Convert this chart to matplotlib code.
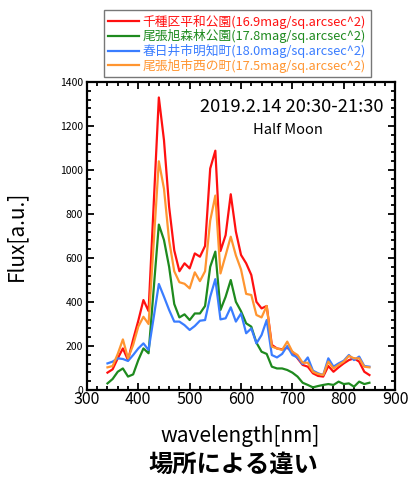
import numpy as np
import matplotlib
matplotlib.use('Agg')
import matplotlib.pyplot as plt
from matplotlib.ticker import MultipleLocator

plt.rcParams['font.family'] = ['Noto Sans CJK JP', 'DejaVu Sans']

# スペクトルデータ (10nm刻み)
wl = np.arange(340, 851, 10)

chikusa = [79, 94, 144, 189, 136, 230, 315, 409, 359, 845,
           1330, 1136, 833, 635, 540, 576, 553, 621, 606, 655,
           1007, 1088, 632, 704, 890, 720, 614, 576, 523, 401,
           371, 382, 205, 189, 185, 192, 174, 144, 114, 106,
           76, 64, 61, 109, 83, 103, 121, 136, 144, 129,
           83, 68]
owariasahi_forest = [30, 50, 83, 98, 61, 71, 136, 189, 167, 460,
                     752, 682, 560, 391, 330, 344, 318, 348, 348, 382,
                     560, 629, 364, 424, 500, 401, 358, 303, 288, 215,
                     174, 164, 106, 98, 98, 91, 79, 61, 33, 23,
                     12, 18, 23, 27, 23, 38, 27, 30, 15, 38,
                     27, 33]
kasugai = [121, 129, 144, 141, 132, 159, 189, 212, 182, 330,
           482, 424, 364, 311, 311, 295, 273, 291, 315, 318,
           424, 504, 321, 326, 376, 311, 348, 258, 280, 212,
           250, 318, 159, 148, 164, 200, 159, 148, 118, 148,
           88, 76, 68, 144, 106, 121, 133, 159, 136, 152,
           109, 106]
owariasahi_nishi = [103, 109, 164, 230, 144, 205, 288, 333, 300, 670,
                    1040, 915, 680, 540, 490, 483, 462, 535, 495, 540,
                    770, 884, 530, 612, 697, 612, 548, 437, 432, 341,
                    330, 382, 197, 189, 182, 220, 174, 159, 124, 124,
                    83, 73, 68, 129, 98, 114, 129, 155, 144, 144,
                    106, 103]

labels = ['千種区平和公園(16.9mag/sq.arcsec^2)',
          '尾張旭森林公園(17.8mag/sq.arcsec^2)',
          '春日井市明知町(18.0mag/sq.arcsec^2)',
          '尾張旭市西の町(17.5mag/sq.arcsec^2)']
colors = ['#ff1010', '#1e8a1e', '#3a7dff', '#ff9530']
series = [chikusa, owariasahi_forest, kasugai, owariasahi_nishi]

fig = plt.figure(figsize=(4.12, 4.8), dpi=100)
ax = fig.add_axes([0.211, 0.1875, 0.748, 0.6415])

for y, c, lab in zip(series, colors, labels):
    ax.plot(wl, y, color=c, lw=1.6, label=lab)

ax.set_xlim(300, 900)
ax.set_ylim(0, 1400)
ax.xaxis.set_major_locator(MultipleLocator(100))
ax.xaxis.set_minor_locator(MultipleLocator(20))
ax.yaxis.set_major_locator(MultipleLocator(200))
ax.yaxis.set_minor_locator(MultipleLocator(40))
ax.tick_params(which='both', direction='in', top=True, right=True, width=1.3)
ax.tick_params(which='major', length=5)
ax.tick_params(which='minor', length=3)
ax.tick_params(axis='x', labelsize=11.5, pad=1)
ax.tick_params(axis='y', labelsize=7.5, pad=3)
for s in ax.spines.values():
    s.set_linewidth(1.6)

ax.set_xlabel('wavelength[nm]', fontsize=15)
ax.set_ylabel('Flux[a.u.]', fontsize=15)
ax.xaxis.set_label_coords(0.497, -0.115)
ax.yaxis.set_label_coords(-0.195, 0.5)

ax.text(0.961, 0.919, '2019.2.14 20:30-21:30', transform=ax.transAxes,
        ha='right', va='center', fontsize=13.2)
ax.text(0.651, 0.844, 'Half Moon', transform=ax.transAxes,
        ha='center', va='center', fontsize=10.5)

leg = fig.legend(loc='upper left', bbox_to_anchor=(0.252, 0.979), fontsize=9.2,
                 handlelength=2.4, handletextpad=0.3, labelspacing=0.06,
                 borderpad=0.35, borderaxespad=0, fancybox=False,
                 edgecolor='#555555')
leg.get_frame().set_linewidth(1.0)
for t, c in zip(leg.get_texts(), colors):
    t.set_color(c)

fig.text(0.566, 0.031, '場所による違い', ha='center', va='center',
         fontsize=17.5, fontweight='bold')

fig.savefig('out.png', dpi=100)
